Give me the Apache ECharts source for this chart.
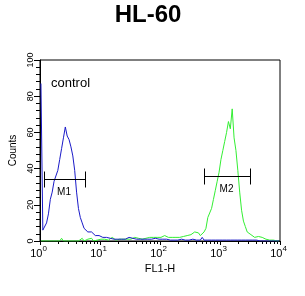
<!DOCTYPE html>
<html><head><meta charset="utf-8">
<script src="https://cdn.jsdelivr.net/npm/echarts@6/dist/echarts.min.js"></script>
<style>html,body{margin:0;padding:0;background:#fff}#c{width:305px;height:296px}</style>
</head><body><div id="c"></div>
<script>
// ---- data ----
const binsPerDecade = 32;            // histogram channels per decade of FL1-H
const decadeExponents = [0, 1, 2, 3, 4];
const yTickValues = [0, 20, 40, 60, 80, 100];
const controlCounts = [
  87,6,7,10,15,23,27,33,34,39,45,51,57,63,58,56,52,47,39,27,18,13,10,7,6,5,4,5,4,3,3,3,2,
  2,1.5,2,1,1.5,2,1,1.5,1,2,1,1.5,1,1,2,1,1.5,1,1,1.5,1,1,1,1.5,1,1,1,1,1.5,1,1,1,
  1,2,1,1,0.5,1,0.5,1,0.5,0.5,1,0.5,0.5,1,0.5,0.5,1,0.5,0.5,1,0.5,
  2,
  0.5,0.5,0.5,0.5,0.5,0.5,0.5,0.5,0.5,0.5,0.5,0.5,0.5,0.5,0.5,0.5,0.5,0.5,0.5,0.5,0.5,0.5,0.5,0.5,0.5,0.5,0.5,0.5,0.5,
  0,0,0,0,0,0,0,0,0,0,0,0
];
const sampleCounts = [
  0,0,0,0,0,0,0,0,0,0,0,1.5,0,0,0,0,0,0,0,0,0,0,1.5,0,0,1,0,1.5,0,
  1,0.5,1.5,1,0.5,1,1.5,0.5,1,2,1,0.5,1.5,1,2,1,1.5,1,2,1,1.5,2,1,1.5,2,1,2,1.5,1,2,1.5,2,1,2,1.5,2,1.5,3,
  4,2,1.5,2,1.5,2,2.5,2,2,2.5,2,3,
  3,3.5,4,5,5,4.5,3,3,5,7,13,12,18,23,28,33,38,45,50,55,60,66,62,73,57,50,39,27,17,11,8,5,4,3.5,3,2,2,2.5,1.5,2,1.5,1,0.5,0.5,0,0.5,0,0,0
];
const gateNames = ['M1', 'M2'];
const gateLow = [1.17, 550];     // FL1-H
const gateHigh = [5.6, 3160];    // FL1-H
const gateLevel = [34.5, 36];    // Counts

// ---- build ----
const toSeries = arr => arr.map((v, i) => [(i + 0.5) / binsPerDecade, v]);
const minorTicks = [];
for (let n = 0; n < decadeExponents.length - 1; n++)
  for (let k = 2; k <= 9; k++) minorTicks.push(decadeExponents[n] + Math.log10(k));

const FONT = 'Liberation Sans, Arial, sans-serif';
const chart = echarts.init(document.getElementById('c'), null, {renderer: 'canvas'});
chart.setOption({
  animation: false,
  backgroundColor: '#fff',
  grid: {left: 40, right: 25, top: 60, bottom: 55, show: true, borderColor: '#000', borderWidth: 1, backgroundColor: 'transparent'},
  graphic: [
    {type: 'text', x: 148, y: 15, style: {text: 'HL-60', font: 'bold 24px ' + FONT, fill: '#000', align: 'center', verticalAlign: 'middle'}},
    {type: 'text', x: 51, y: 83.5, style: {text: 'control', font: '13px ' + FONT, fill: '#000', align: 'left', verticalAlign: 'middle'}}
  ],
  xAxis: [{
    type: 'value', min: 0, max: 4, interval: 1, position: 'bottom',
    axisLine: {show: true, lineStyle: {color: '#000', width: 1}},
    axisTick: {show: true, length: 4, lineStyle: {color: '#000'}},
    splitLine: {show: false},
    axisLabel: {
      margin: 4, color: '#000', fontFamily: FONT, padding: [0, 3, 0, 0],
      formatter: v => '{b|10}{s|' + Math.round(v) + '}',
      rich: {b: {fontSize: 11, fontFamily: FONT, color: '#000', lineHeight: 14, verticalAlign: 'bottom'},
             s: {fontSize: 8, fontFamily: FONT, color: '#000', lineHeight: 14, verticalAlign: 'top', padding: [0,0,6,0]}}
    },
    name: 'FL1-H', nameLocation: 'middle', nameGap: 19,
    nameTextStyle: {fontSize: 11, fontFamily: FONT, color: '#000', verticalAlign: 'top'}
  }, {
    type: 'value', min: 0, max: 4, position: 'bottom',
    axisLine: {show: false},
    axisTick: {show: true, length: 3, customValues: minorTicks, lineStyle: {color: '#000'}},
    axisLabel: {show: false},
    splitLine: {show: false}
  }],
  yAxis: {
    type: 'value', min: 0, max: 100, interval: 20,
    axisLine: {show: true, lineStyle: {color: '#000', width: 1}},
    axisTick: {show: true, length: 6, lineStyle: {color: '#000'}},
    minorTick: {show: true, splitNumber: 5, length: 4, lineStyle: {color: '#000'}},
    splitLine: {show: false},
    axisLabel: {rotate: 90, margin: 5, fontSize: 9, fontFamily: FONT, color: '#000'},
    name: 'Counts', nameLocation: 'middle', nameGap: 18,
    nameTextStyle: {fontSize: 10, fontFamily: FONT, color: '#000'}
  },
  series: [
    {type: 'line', data: toSeries(sampleCounts), symbol: 'none', lineStyle: {color: '#33ee33', width: 1}, z: 2},
    {type: 'line', data: toSeries(controlCounts), symbol: 'none', lineStyle: {color: '#1a1ac8', width: 1}, z: 3},
    {
      type: 'custom', z: 4,
      data: gateNames.map((n, i) => [Math.log10(gateLow[i]), Math.log10(gateHigh[i]), gateLevel[i]]),
      renderItem: (params, api) => {
        const a = api.coord([api.value(0), api.value(2)]);
        const b = api.coord([api.value(1), api.value(2)]);
        const y = Math.round(a[1]) + 0.5, xa = Math.round(a[0]) + 0.5, xb = Math.round(b[0]) + 0.5;
        const st = {stroke: '#000', lineWidth: 1};
        return {type: 'group', children: [
          {type: 'line', shape: {x1: xa, y1: y, x2: xb, y2: y}, style: st},
          {type: 'line', shape: {x1: xa, y1: y - 8, x2: xa, y2: y + 8}, style: st},
          {type: 'line', shape: {x1: xb, y1: y - 8, x2: xb, y2: y + 8}, style: st},
          {type: 'text', x: (xa + xb) / 2 - 1, y: y + 13, style: {text: gateNames[params.dataIndex], font: '10px ' + FONT, fill: '#000', align: 'center', verticalAlign: 'middle'}}
        ]};
      }
    }
  ]
});
</script></body></html>
